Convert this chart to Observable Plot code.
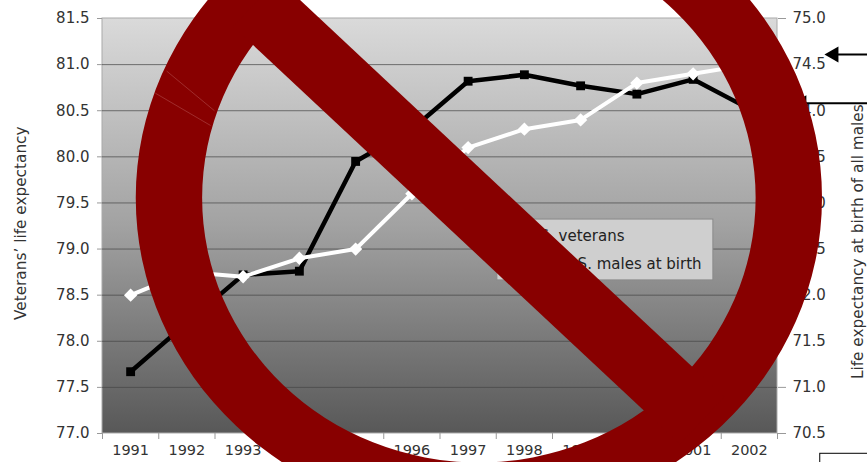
<!DOCTYPE html>
<html>
<head>
<meta charset="utf-8">
<script src="https://cdn.jsdelivr.net/npm/d3@7"></script>
<script src="https://cdn.jsdelivr.net/npm/@observablehq/plot@0.6"></script>
<style>
html,body{margin:0;padding:0;background:#fff;overflow:hidden}
svg{display:block;overflow:hidden}
</style>
</head>
<body>
<div id="chart"></div>
<script>
const years = [1991,1992,1993,1994,1995,1996,1997,1998,1999,2000,2001,2002];
const veterans = [77.67,78.2,78.72,78.76,79.95,80.3,80.82,80.89,80.77,80.68,80.84,80.52];
const usMales = [72.0,72.25,72.2,72.4,72.5,73.1,73.6,73.8,73.9,74.3,74.4,74.5];
const gridValues = [77,77.5,78,78.5,79,79.5,80,80.5,81,81.5];
const yearEdges = [1990.5,1991.5,1992.5,1993.5,1994.5,1995.5,1996.5,1997.5,1998.5,1999.5,2000.5,2001.5,2002.5];
const axisOffset = 6.5; // right axis = left axis minus this many years

const vetRows = years.map((year,i)=>({year,value:veterans[i]}));
const maleRows = years.map((year,i)=>({year,value:usMales[i]+axisOffset}));

// Legend panel and its two entries, in year / left-axis units
const legendPanel = [{x1:1997.52,x2:2001.36,y1:78.66,y2:79.32}];
const legendEntries = [
  {x:1999.78,y:79.14,label:"U.S. veterans"},
  {x:2001.15,y:78.84,label:"U.S. males at birth"}
];

// Pointer arrows at the right margin
const pointers = [
  {x1:2004.2,x2:2003.5,y:81.11},
  {x1:2004.2,x2:2002.93,y:80.58}
];
const cornerBox = [{x1:2003.26,x2:2004.5,y1:76.5,y2:76.78}];

// Prohibition sign: ring and slash
const ring = {cx:1997.2, cy:79.55, rxOuter:6.1, ryOuter:3.5, rxInner:4.92, ryInner:2.87};
const slash = [{x1:1993.22,y1:81.67,x2:2001.16,y2:77.14}];
const ringSeams = [
  {x1:1991.64,y1:80.93,x2:1992.49,y2:80.50},
  {x1:1991.44,y1:80.69,x2:1992.42,y2:80.34}
];

const font = "'DejaVu Sans', sans-serif";
const ns = "http://www.w3.org/2000/svg";

function backdrop(index, {x, y}) {
  const g = document.createElementNS(ns,"g");
  const defs = document.createElementNS(ns,"defs");
  const lg = document.createElementNS(ns,"linearGradient");
  lg.setAttribute("id","plotShade");
  lg.setAttribute("x1","0");lg.setAttribute("y1","0");lg.setAttribute("x2","0");lg.setAttribute("y2","1");
  [["0","#dadada"],["0.5","#a2a2a2"],["1","#585858"]].forEach(([o,c])=>{
    const s=document.createElementNS(ns,"stop");
    s.setAttribute("offset",o);s.setAttribute("stop-color",c);lg.appendChild(s);
  });
  defs.appendChild(lg);g.appendChild(defs);
  const r=document.createElementNS(ns,"rect");
  r.setAttribute("x",x(1990.5));r.setAttribute("y",y(81.5));
  r.setAttribute("width",x(2002.5)-x(1990.5));r.setAttribute("height",y(77)-y(81.5));
  r.setAttribute("fill","url(#plotShade)");r.setAttribute("stroke","#aaa");
  g.appendChild(r);
  return g;
}

function ringMark(index, {x, y}) {
  const cx=x(ring.cx), cy=y(ring.cy);
  const k=x(1)-x(0), m=y(0)-y(1);
  const ell=(rx,ry)=>`M${cx-rx},${cy}A${rx},${ry} 0 1 0 ${cx+rx},${cy}A${rx},${ry} 0 1 0 ${cx-rx},${cy}Z`;
  const p=document.createElementNS(ns,"path");
  p.setAttribute("d",ell(ring.rxOuter*k,ring.ryOuter*m)+ell(ring.rxInner*k,ring.ryInner*m));
  p.setAttribute("fill","#880000");p.setAttribute("fill-rule","evenodd");
  return p;
}

const chart = Plot.plot({
  width:867, height:462,
  marginLeft:102, marginRight:90, marginTop:18, marginBottom:29,
  style:{fontFamily:font, background:"#fff", overflow:"hidden"},
  x:{domain:[1990.5,2002.5], range:[102,777]},
  y:{domain:[77,81.5], range:[433,18]},
  marks:[
    backdrop,
    Plot.ruleY(gridValues.slice(1,-1),{stroke:"#444",strokeWidth:1,strokeOpacity:0.7}),
    Plot.axisY({ticks:gridValues,anchor:"left",tickSize:5,tickPadding:8,fontSize:15,stroke:"#999",fill:"#333",tickFormat:d3.format(".1f"),label:null}),
    Plot.axisY({ticks:gridValues,anchor:"right",tickSize:8,tickPadding:7,fontSize:15,stroke:"#999",fill:"#333",tickFormat:d=>(d-axisOffset).toFixed(1),label:null}),
    Plot.axisX({ticks:years,tickSize:0,tickPadding:11,fontSize:14.5,fill:"#333",stroke:"none",tickFormat:d=>String(d),label:null}),
    Plot.axisX({ticks:yearEdges,tickSize:6,stroke:"#999",tickFormat:()=>"",label:null}),
    Plot.text(["Veterans’ life expectancy"],{x:1989.06,y:79.28,text:d=>d,rotate:-90,fontSize:15.3,fill:"#333"}),
    Plot.text(["Life expectancy at birth of all males"],{x:2003.94,y:79.08,text:d=>d,rotate:-90,fontSize:15.3,fill:"#333"}),
    Plot.line(vetRows,{x:"year",y:"value",stroke:"#000",strokeWidth:4.5}),
    Plot.dot(vetRows,{x:"year",y:"value",symbol:"square",r:5,fill:"#000"}),
    Plot.line(maleRows,{x:"year",y:"value",stroke:"#fff",strokeWidth:4}),
    Plot.dot(maleRows,{x:"year",y:"value",symbol:"diamond2",r:6,fill:"#fff"}),
    Plot.rect(legendPanel,{x1:"x1",x2:"x2",y1:"y1",y2:"y2",fill:"#cfcfcf",stroke:"#8a8a8a"}),
    Plot.text(legendEntries,{x:"x",y:"y",text:"label",textAnchor:"end",fontSize:15,fill:"#222"}),
    Plot.link(pointers,{x1:"x1",x2:"x2",y1:"y",y2:"y",stroke:"#000",strokeWidth:2}),
    Plot.dot(pointers,{x:"x2",y:"y",symbol:"triangle",r:6,rotate:-90,fill:"#000"}),
    Plot.rect(cornerBox,{x1:"x1",x2:"x2",y1:"y1",y2:"y2",fill:"#fff",stroke:"#000",strokeWidth:1}),
    ringMark,
    Plot.link(slash,{x1:"x1",y1:"y1",x2:"x2",y2:"y2",stroke:"#880000",strokeWidth:65}),
    Plot.link(ringSeams,{x1:"x1",y1:"y1",x2:"x2",y2:"y2",stroke:"#b04a4a",strokeWidth:0.6})
  ]
});
document.getElementById("chart").appendChild(chart);
</script>
</body>
</html>
